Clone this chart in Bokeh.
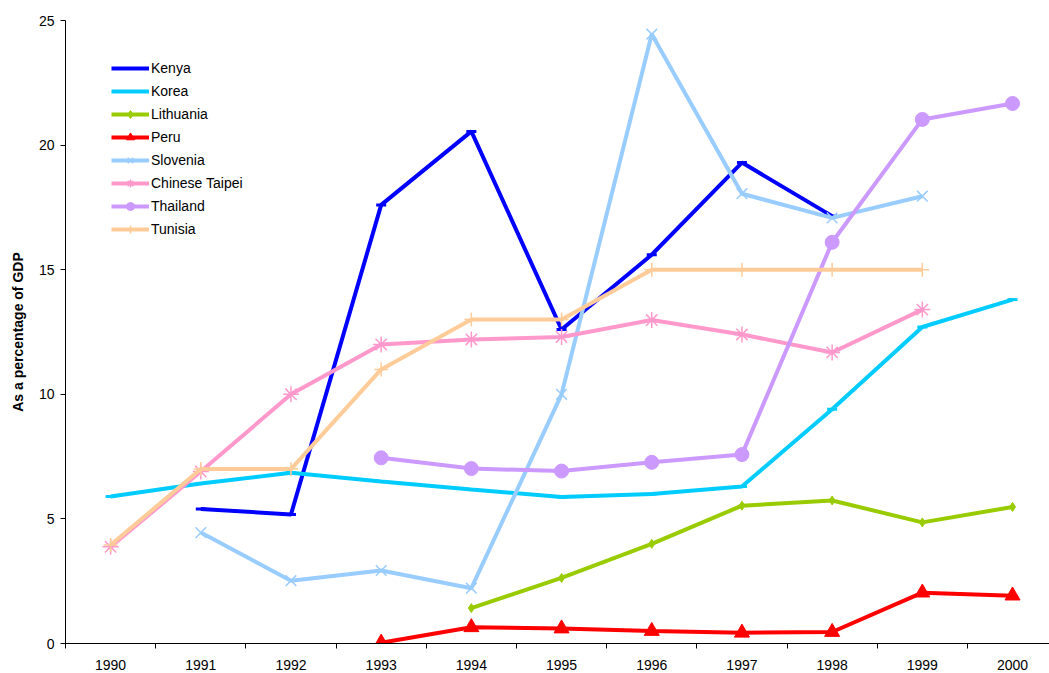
import math
from bokeh.plotting import figure
from bokeh.models import Range1d, FixedTicker, Legend, LegendItem, ColumnDataSource
from bokeh.embed import file_html
from bokeh.resources import INLINE

years = [1990, 1991, 1992, 1993, 1994, 1995, 1996, 1997, 1998, 1999, 2000]
N = None
kenya = [N, 5.4, 5.18, 17.6, 20.55, 12.6, 15.6, 19.3, 17.15, N, N]
korea = [5.9, 6.42, 6.85, 6.5, 6.18, 5.88, 6.0, 6.3, 9.4, 12.7, 13.8]
lithuania = [N, N, N, N, 1.42, 2.63, 4.0, 5.53, 5.74, 4.86, 5.48]
peru = [N, N, N, 0.03, 0.65, 0.6, 0.5, 0.43, 0.46, 2.04, 1.92]
slovenia = [N, 4.45, 2.52, 2.93, 2.22, 10.0, 24.45, 18.05, 17.08, 17.95, N]
taipei = [3.88, 6.9, 10.0, 12.0, 12.2, 12.3, 12.98, 12.4, 11.68, 13.4, N]
thailand = [N, N, N, 7.45, 7.02, 6.92, 7.27, 7.58, 16.1, 21.03, 21.67]
tunisia = [3.95, 7.0, 7.0, 11.0, 13.0, 13.0, 15.0, 15.0, 15.0, 15.0, N]

series = [
    ("Kenya", kenya, "#0000FF", "dash"),
    ("Korea", korea, "#00CCFF", "dash"),
    ("Lithuania", lithuania, "#99CC00", "diamond"),
    ("Peru", peru, "#FF0000", "triangle"),
    ("Slovenia", slovenia, "#99CCFF", "x"),
    ("Chinese Taipei", taipei, "#FF99CC", "asterisk"),
    ("Thailand", thailand, "#CC99FF", "circle"),
    ("Tunisia", tunisia, "#FFCC99", "cross"),
]
marker_size = {"dash": 10, "diamond": 9, "triangle": 15, "x": 15, "asterisk": 16, "circle": 14, "cross": 14}
marker_lw = {"dash": 3, "diamond": 1, "triangle": 1, "x": 1.5, "asterisk": 1.5, "circle": 1, "cross": 1.5}

FONT = "Liberation Sans"

p = figure(width=1049, height=673, output_backend="svg", toolbar_location=None,
           x_range=Range1d(0, 10.91), y_range=Range1d(0, 25))
p.min_border = 0
p.min_border_left = 65
p.min_border_top = 20
p.min_border_bottom = 30
p.min_border_right = 0
p.outline_line_color = None
p.background_fill_color = "white"
p.border_fill_color = "white"
p.xgrid.grid_line_color = None
p.ygrid.grid_line_color = None

pos = [i + 0.5 for i in range(len(years))]

items = []
for name, vals, color, mk in series:
    xs = [pos[i] for i, v in enumerate(vals) if v is not None]
    ys = [v for v in vals if v is not None]
    src = ColumnDataSource(dict(x=xs, y=ys))
    lr = p.line("x", "y", source=src, line_color=color, line_width=4)
    fill = color if mk in ("diamond", "triangle", "circle") else None
    mr = p.scatter("x", "y", source=src, marker=mk, size=marker_size[mk],
                   line_color=color, fill_color=fill, line_width=marker_lw[mk])
    items.append(LegendItem(label=name, renderers=[lr, mr]))

legend = Legend(items=items, location=(46, 404), orientation="vertical")
legend.border_line_color = None
legend.background_fill_alpha = 0
legend.label_text_font = FONT
legend.label_text_font_size = "14px"
legend.label_text_color = "black"
legend.glyph_width = 38
legend.glyph_height = 20
legend.label_height = 20
legend.spacing = 3
legend.padding = 0
legend.margin = 0
legend.label_standoff = 2
p.add_layout(legend)

# x axis
p.xaxis.ticker = FixedTicker(ticks=pos, minor_ticks=list(range(0, 11)))
p.xaxis.major_label_overrides = {pos[i]: str(y) for i, y in enumerate(years)}
p.xaxis.major_tick_line_color = None
p.xaxis.major_tick_out = 0
p.xaxis.major_tick_in = 0
p.xaxis.minor_tick_out = 5
p.xaxis.minor_tick_in = 0
p.xaxis.minor_tick_line_color = "black"
p.xaxis.axis_line_color = "black"
p.xaxis.major_label_text_font = FONT
p.xaxis.major_label_text_font_size = "14px"
p.xaxis.major_label_text_color = "black"
p.xaxis.major_label_standoff = 11

# y axis
p.yaxis.ticker = FixedTicker(ticks=[0, 5, 10, 15, 20, 25])
p.yaxis.minor_tick_line_color = None
p.yaxis.major_tick_out = 5
p.yaxis.major_tick_in = 0
p.yaxis.axis_line_color = "black"
p.yaxis.major_tick_line_color = "black"
p.yaxis.major_label_text_font = FONT
p.yaxis.major_label_text_font_size = "14px"
p.yaxis.major_label_text_color = "black"
p.yaxis.major_label_standoff = 6
p.yaxis.axis_label = "As a percentage of GDP"
p.yaxis.axis_label_text_font = FONT
p.yaxis.axis_label_text_font_style = "bold"
p.yaxis.axis_label_text_font_size = "14px"
p.yaxis.axis_label_text_color = "black"
p.yaxis.axis_label_standoff = 10

open("out.html", "w").write(file_html(p, INLINE))
